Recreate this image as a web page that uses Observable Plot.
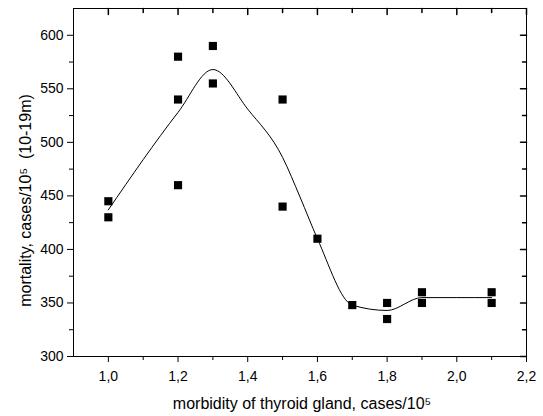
<!DOCTYPE html>
<html>
<head>
<meta charset="utf-8">
<script src="https://cdn.jsdelivr.net/npm/d3@7"></script>
<script src="https://cdn.jsdelivr.net/npm/@observablehq/plot@0.6"></script>
<style>
  html, body { margin: 0; padding: 0; background: #fff; }
  svg { display: block; }
</style>
</head>
<body>
<div id="chart"></div>
<script>
// Scatter points
const pointX = [1.0, 1.0, 1.2, 1.2, 1.2, 1.3, 1.3, 1.5, 1.5, 1.6, 1.7, 1.8, 1.8, 1.9, 1.9, 2.1, 2.1];
const pointY = [445, 430, 580, 540, 460, 590, 555, 540, 440, 410, 348, 350, 335, 360, 350, 360, 350];
// Smooth curve nodes
const curveX = [1.0, 1.2, 1.3, 1.4, 1.5, 1.55, 1.6, 1.7, 1.8, 1.9, 2.0, 2.1];
const curveY = [437, 528, 568, 531, 486, 449, 410, 348, 343, 355, 355, 355];
// Ticks
const xMajor = [1.0, 1.2, 1.4, 1.6, 1.8, 2.0, 2.2];
const xMinor = [1.1, 1.3, 1.5, 1.7, 1.9, 2.1];
const yMajor = [300, 350, 400, 450, 500, 550, 600];
const yMinor = [325, 375, 425, 475, 525, 575];
const xLabel = "morbidity of thyroid gland, cases/10\u2075";
const yLabel = "mortality, cases/10\u2075  (10-19m)";

const points = pointX.map((x, i) => ({x, y: pointY[i]}));
const curve = curveX.map((x, i) => ({x, y: curveY[i]}));
const fmt = d => d.toFixed(1).replace(".", ",");
const line = {draw(ctx, l) { ctx.moveTo(0, 0); ctx.lineTo(0, -l); }};

const chart = Plot.plot({
  width: 543,
  height: 416,
  marginLeft: 73,
  marginRight: 17,
  marginTop: 8,
  marginBottom: 60,
  style: {fontFamily: "'Liberation Sans', Arial, sans-serif", fontSize: "14px", color: "#000", background: "#fff"},
  x: {domain: [0.9, 2.2]},
  y: {domain: [300, 625]},
  marks: [
    Plot.frame({stroke: "#000", strokeWidth: 1}),
    // bottom axis (outward)
    Plot.axisX(xMajor, {anchor: "bottom", tickSize: 6, tickPadding: 9, tickFormat: fmt, label: null, fontSize: 14}),
    Plot.axisX(xMinor, {anchor: "bottom", tickSize: 4, tickFormat: () => "", label: null}),
    // left axis (outward)
    Plot.axisY(yMajor, {anchor: "left", tickSize: 6, tickPadding: 4, label: null, fontSize: 14}),
    Plot.axisY(yMinor, {anchor: "left", tickSize: 4, tickFormat: () => "", label: null}),
    // top axis ticks (inward)
    Plot.vector(xMajor, {x: d => d, frameAnchor: "top", length: 6, rotate: 180, anchor: "start", shape: line, stroke: "#000"}),
    Plot.vector(xMinor, {x: d => d, frameAnchor: "top", length: 4, rotate: 180, anchor: "start", shape: line, stroke: "#000"}),
    // right axis ticks (inward)
    Plot.vector(yMajor, {y: d => d, frameAnchor: "right", length: 6, rotate: -90, anchor: "start", shape: line, stroke: "#000"}),
    Plot.vector(yMinor, {y: d => d, frameAnchor: "right", length: 4, rotate: -90, anchor: "start", shape: line, stroke: "#000"}),
    // fitted curve
    Plot.line(curve, {x: "x", y: "y", curve: "monotone-x", stroke: "#000", strokeWidth: 1}),
    // points
    Plot.dot(points, {x: "x", y: "y", symbol: "square", r: 4.6, fill: "#000", stroke: "none"}),
    // axis titles
    Plot.text([xLabel], {frameAnchor: "bottom", text: d => d, textAnchor: "middle", lineAnchor: "middle", dy: 47, dx: 2, fontSize: 16, fill: "#000"}),
    Plot.text([yLabel], {frameAnchor: "left", text: d => d, textAnchor: "middle", lineAnchor: "middle", rotate: -90, dx: -48, dy: 18, fontSize: 16, fill: "#000"})
  ]
});
document.getElementById("chart").appendChild(chart);
</script>
</body>
</html>
